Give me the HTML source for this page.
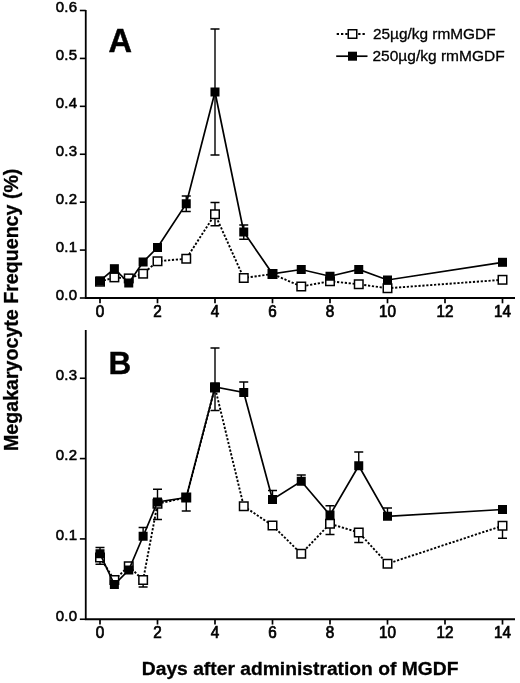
<!DOCTYPE html>
<html lang="en"><head><meta charset="utf-8"><title>Megakaryocyte Frequency after MGDF</title>
<style>html,body{margin:0;padding:0;background:#fff;}body{width:520px;height:683px;position:relative;overflow:hidden;}</style>
</head><body>
<svg width="520" height="683" viewBox="0 0 520 683" style="display:block;position:absolute;left:0;top:0;will-change:transform;opacity:0.999">
<rect width="520" height="683" fill="#fff"/>
<g font-family="'Liberation Sans', Arial, Helvetica, sans-serif" fill="#000">
<path d="M85.75 10.0V298.0H515" fill="none" stroke="#000" stroke-width="1.8"/>
<path d="M79.85 298.00H85.75" stroke="#000" stroke-width="1.6"/>
<text x="77.3" y="299.50" font-size="15" text-anchor="end" letter-spacing="0.25" stroke="#000" stroke-width="0.55">0.0</text>
<path d="M79.85 250.08H85.75" stroke="#000" stroke-width="1.6"/>
<text x="77.3" y="251.58" font-size="15" text-anchor="end" letter-spacing="0.25" stroke="#000" stroke-width="0.55">0.1</text>
<path d="M79.85 202.17H85.75" stroke="#000" stroke-width="1.6"/>
<text x="77.3" y="203.67" font-size="15" text-anchor="end" letter-spacing="0.25" stroke="#000" stroke-width="0.55">0.2</text>
<path d="M79.85 154.25H85.75" stroke="#000" stroke-width="1.6"/>
<text x="77.3" y="155.75" font-size="15" text-anchor="end" letter-spacing="0.25" stroke="#000" stroke-width="0.55">0.3</text>
<path d="M79.85 106.33H85.75" stroke="#000" stroke-width="1.6"/>
<text x="77.3" y="107.83" font-size="15" text-anchor="end" letter-spacing="0.25" stroke="#000" stroke-width="0.55">0.4</text>
<path d="M79.85 58.42H85.75" stroke="#000" stroke-width="1.6"/>
<text x="77.3" y="59.92" font-size="15" text-anchor="end" letter-spacing="0.25" stroke="#000" stroke-width="0.55">0.5</text>
<path d="M79.85 10.50H85.75" stroke="#000" stroke-width="1.6"/>
<text x="77.3" y="12.00" font-size="15" text-anchor="end" letter-spacing="0.25" stroke="#000" stroke-width="0.55">0.6</text>
<path d="M100.00 298.0V303.3" stroke="#000" stroke-width="1.7"/>
<text x="95.75" y="316.50" font-size="15.6" textLength="8.5" lengthAdjust="spacingAndGlyphs" stroke="#000" stroke-width="0.7">0</text>
<path d="M157.50 298.0V303.3" stroke="#000" stroke-width="1.7"/>
<text x="153.25" y="316.50" font-size="15.6" textLength="8.5" lengthAdjust="spacingAndGlyphs" stroke="#000" stroke-width="0.7">2</text>
<path d="M215.00 298.0V303.3" stroke="#000" stroke-width="1.7"/>
<text x="210.75" y="316.50" font-size="15.6" textLength="8.5" lengthAdjust="spacingAndGlyphs" stroke="#000" stroke-width="0.7">4</text>
<path d="M272.50 298.0V303.3" stroke="#000" stroke-width="1.7"/>
<text x="268.25" y="316.50" font-size="15.6" textLength="8.5" lengthAdjust="spacingAndGlyphs" stroke="#000" stroke-width="0.7">6</text>
<path d="M330.00 298.0V303.3" stroke="#000" stroke-width="1.7"/>
<text x="325.75" y="316.50" font-size="15.6" textLength="8.5" lengthAdjust="spacingAndGlyphs" stroke="#000" stroke-width="0.7">8</text>
<path d="M387.50 298.0V303.3" stroke="#000" stroke-width="1.7"/>
<text x="379.00" y="316.50" font-size="15.6" textLength="17.0" lengthAdjust="spacingAndGlyphs" stroke="#000" stroke-width="0.7">10</text>
<path d="M445.00 298.0V303.3" stroke="#000" stroke-width="1.7"/>
<text x="436.50" y="316.50" font-size="15.6" textLength="17.0" lengthAdjust="spacingAndGlyphs" stroke="#000" stroke-width="0.7">12</text>
<path d="M502.50 298.0V303.3" stroke="#000" stroke-width="1.7"/>
<text x="494.00" y="316.50" font-size="15.6" textLength="17.0" lengthAdjust="spacingAndGlyphs" stroke="#000" stroke-width="0.7">14</text>
<path d="M85.75 330.0V619.25H515" fill="none" stroke="#000" stroke-width="1.8"/>
<path d="M79.85 619.25H85.75" stroke="#000" stroke-width="1.6"/>
<text x="77.3" y="620.75" font-size="15" text-anchor="end" letter-spacing="0.25" stroke="#000" stroke-width="0.55">0.0</text>
<path d="M79.85 538.92H85.75" stroke="#000" stroke-width="1.6"/>
<text x="77.3" y="540.42" font-size="15" text-anchor="end" letter-spacing="0.25" stroke="#000" stroke-width="0.55">0.1</text>
<path d="M79.85 458.58H85.75" stroke="#000" stroke-width="1.6"/>
<text x="77.3" y="460.08" font-size="15" text-anchor="end" letter-spacing="0.25" stroke="#000" stroke-width="0.55">0.2</text>
<path d="M79.85 378.25H85.75" stroke="#000" stroke-width="1.6"/>
<text x="77.3" y="379.75" font-size="15" text-anchor="end" letter-spacing="0.25" stroke="#000" stroke-width="0.55">0.3</text>
<path d="M100.00 619.25V624.55" stroke="#000" stroke-width="1.7"/>
<text x="95.75" y="637.75" font-size="15.6" textLength="8.5" lengthAdjust="spacingAndGlyphs" stroke="#000" stroke-width="0.7">0</text>
<path d="M157.50 619.25V624.55" stroke="#000" stroke-width="1.7"/>
<text x="153.25" y="637.75" font-size="15.6" textLength="8.5" lengthAdjust="spacingAndGlyphs" stroke="#000" stroke-width="0.7">2</text>
<path d="M215.00 619.25V624.55" stroke="#000" stroke-width="1.7"/>
<text x="210.75" y="637.75" font-size="15.6" textLength="8.5" lengthAdjust="spacingAndGlyphs" stroke="#000" stroke-width="0.7">4</text>
<path d="M272.50 619.25V624.55" stroke="#000" stroke-width="1.7"/>
<text x="268.25" y="637.75" font-size="15.6" textLength="8.5" lengthAdjust="spacingAndGlyphs" stroke="#000" stroke-width="0.7">6</text>
<path d="M330.00 619.25V624.55" stroke="#000" stroke-width="1.7"/>
<text x="325.75" y="637.75" font-size="15.6" textLength="8.5" lengthAdjust="spacingAndGlyphs" stroke="#000" stroke-width="0.7">8</text>
<path d="M387.50 619.25V624.55" stroke="#000" stroke-width="1.7"/>
<text x="379.00" y="637.75" font-size="15.6" textLength="17.0" lengthAdjust="spacingAndGlyphs" stroke="#000" stroke-width="0.7">10</text>
<path d="M445.00 619.25V624.55" stroke="#000" stroke-width="1.7"/>
<text x="436.50" y="637.75" font-size="15.6" textLength="17.0" lengthAdjust="spacingAndGlyphs" stroke="#000" stroke-width="0.7">12</text>
<path d="M502.50 619.25V624.55" stroke="#000" stroke-width="1.7"/>
<text x="494.00" y="637.75" font-size="15.6" textLength="17.0" lengthAdjust="spacingAndGlyphs" stroke="#000" stroke-width="0.7">14</text>
<path d="M215.00 214.25V202.50M210.50 202.50H219.50" stroke="#000" stroke-width="1.4" fill="none"/>
<path d="M215.00 214.25V225.75M210.50 225.75H219.50" stroke="#000" stroke-width="1.4" fill="none"/>
<polyline points="100.00,281.70 114.38,277.40 128.75,278.40 143.12,273.70 157.50,261.25 186.25,258.75 215.00,214.25 243.75,278.00 272.50,274.00 301.25,286.50 330.00,281.25 358.75,284.25 387.50,288.25 502.50,279.80" fill="none" stroke="#000" stroke-width="1.9" stroke-dasharray="2.2 1.7"/>
<rect x="95.75" y="277.45" width="8.5" height="8.5" fill="#fff" stroke="#000" stroke-width="1.5"/>
<rect x="110.12" y="273.15" width="8.5" height="8.5" fill="#fff" stroke="#000" stroke-width="1.5"/>
<rect x="124.50" y="274.15" width="8.5" height="8.5" fill="#fff" stroke="#000" stroke-width="1.5"/>
<rect x="138.88" y="269.45" width="8.5" height="8.5" fill="#fff" stroke="#000" stroke-width="1.5"/>
<rect x="153.25" y="257.00" width="8.5" height="8.5" fill="#fff" stroke="#000" stroke-width="1.5"/>
<rect x="182.00" y="254.50" width="8.5" height="8.5" fill="#fff" stroke="#000" stroke-width="1.5"/>
<rect x="210.75" y="210.00" width="8.5" height="8.5" fill="#fff" stroke="#000" stroke-width="1.5"/>
<rect x="239.50" y="273.75" width="8.5" height="8.5" fill="#fff" stroke="#000" stroke-width="1.5"/>
<rect x="268.25" y="269.75" width="8.5" height="8.5" fill="#fff" stroke="#000" stroke-width="1.5"/>
<rect x="297.00" y="282.25" width="8.5" height="8.5" fill="#fff" stroke="#000" stroke-width="1.5"/>
<rect x="325.75" y="277.00" width="8.5" height="8.5" fill="#fff" stroke="#000" stroke-width="1.5"/>
<rect x="354.50" y="280.00" width="8.5" height="8.5" fill="#fff" stroke="#000" stroke-width="1.5"/>
<rect x="383.25" y="284.00" width="8.5" height="8.5" fill="#fff" stroke="#000" stroke-width="1.5"/>
<rect x="498.25" y="275.55" width="8.5" height="8.5" fill="#fff" stroke="#000" stroke-width="1.5"/>
<path d="M186.25 203.75V196.00M181.75 196.00H190.75" stroke="#000" stroke-width="1.4" fill="none"/>
<path d="M186.25 203.75V211.50M181.75 211.50H190.75" stroke="#000" stroke-width="1.4" fill="none"/>
<path d="M215.00 92.00V29.00M210.50 29.00H219.50" stroke="#000" stroke-width="1.4" fill="none"/>
<path d="M215.00 92.00V155.00M210.50 155.00H219.50" stroke="#000" stroke-width="1.4" fill="none"/>
<path d="M243.75 232.00V225.00M239.25 225.00H248.25" stroke="#000" stroke-width="1.4" fill="none"/>
<path d="M243.75 232.00V239.25M239.25 239.25H248.25" stroke="#000" stroke-width="1.4" fill="none"/>
<polyline points="100.00,280.90 114.38,268.70 128.75,283.00 143.12,262.00 157.50,247.50 186.25,203.75 215.00,92.00 243.75,232.00 272.50,273.75 301.25,269.50 330.00,276.25 358.75,269.50 387.50,280.00 502.50,262.30" fill="none" stroke="#000" stroke-width="1.7"/>
<rect x="95.50" y="276.40" width="9.0" height="9.0" fill="#000"/>
<rect x="109.88" y="264.20" width="9.0" height="9.0" fill="#000"/>
<rect x="124.25" y="278.50" width="9.0" height="9.0" fill="#000"/>
<rect x="138.62" y="257.50" width="9.0" height="9.0" fill="#000"/>
<rect x="153.00" y="243.00" width="9.0" height="9.0" fill="#000"/>
<rect x="181.75" y="199.25" width="9.0" height="9.0" fill="#000"/>
<rect x="210.50" y="87.50" width="9.0" height="9.0" fill="#000"/>
<rect x="239.25" y="227.50" width="9.0" height="9.0" fill="#000"/>
<rect x="268.00" y="269.25" width="9.0" height="9.0" fill="#000"/>
<rect x="296.75" y="265.00" width="9.0" height="9.0" fill="#000"/>
<rect x="325.50" y="271.75" width="9.0" height="9.0" fill="#000"/>
<rect x="354.25" y="265.00" width="9.0" height="9.0" fill="#000"/>
<rect x="383.00" y="275.50" width="9.0" height="9.0" fill="#000"/>
<rect x="498.00" y="257.80" width="9.0" height="9.0" fill="#000"/>
<path d="M100.00 557.50V564.25M95.50 564.25H104.50" stroke="#000" stroke-width="1.4" fill="none"/>
<path d="M143.12 580.00V587.00M138.62 587.00H147.62" stroke="#000" stroke-width="1.4" fill="none"/>
<path d="M157.50 503.75V519.50M153.00 519.50H162.00" stroke="#000" stroke-width="1.4" fill="none"/>
<path d="M215.00 387.50V410.50M210.50 410.50H219.50" stroke="#000" stroke-width="1.4" fill="none"/>
<path d="M330.00 523.75V534.50M325.50 534.50H334.50" stroke="#000" stroke-width="1.4" fill="none"/>
<path d="M358.75 532.50V542.50M354.25 542.50H363.25" stroke="#000" stroke-width="1.4" fill="none"/>
<path d="M502.50 525.75V538.25M498.00 538.25H507.00" stroke="#000" stroke-width="1.4" fill="none"/>
<polyline points="100.00,557.50 114.38,580.00 128.75,566.25 143.12,580.00 157.50,503.75 186.25,497.50 215.00,387.50 243.75,506.25 272.50,525.50 301.25,553.75 330.00,523.75 358.75,532.50 387.50,563.75 502.50,525.75" fill="none" stroke="#000" stroke-width="1.9" stroke-dasharray="2.2 1.7"/>
<rect x="95.75" y="553.25" width="8.5" height="8.5" fill="#fff" stroke="#000" stroke-width="1.5"/>
<rect x="110.12" y="575.75" width="8.5" height="8.5" fill="#fff" stroke="#000" stroke-width="1.5"/>
<rect x="124.50" y="562.00" width="8.5" height="8.5" fill="#fff" stroke="#000" stroke-width="1.5"/>
<rect x="138.88" y="575.75" width="8.5" height="8.5" fill="#fff" stroke="#000" stroke-width="1.5"/>
<rect x="153.25" y="499.50" width="8.5" height="8.5" fill="#fff" stroke="#000" stroke-width="1.5"/>
<rect x="182.00" y="493.25" width="8.5" height="8.5" fill="#fff" stroke="#000" stroke-width="1.5"/>
<rect x="210.75" y="383.25" width="8.5" height="8.5" fill="#fff" stroke="#000" stroke-width="1.5"/>
<rect x="239.50" y="502.00" width="8.5" height="8.5" fill="#fff" stroke="#000" stroke-width="1.5"/>
<rect x="268.25" y="521.25" width="8.5" height="8.5" fill="#fff" stroke="#000" stroke-width="1.5"/>
<rect x="297.00" y="549.50" width="8.5" height="8.5" fill="#fff" stroke="#000" stroke-width="1.5"/>
<rect x="325.75" y="519.50" width="8.5" height="8.5" fill="#fff" stroke="#000" stroke-width="1.5"/>
<rect x="354.50" y="528.25" width="8.5" height="8.5" fill="#fff" stroke="#000" stroke-width="1.5"/>
<rect x="383.25" y="559.50" width="8.5" height="8.5" fill="#fff" stroke="#000" stroke-width="1.5"/>
<rect x="498.25" y="521.50" width="8.5" height="8.5" fill="#fff" stroke="#000" stroke-width="1.5"/>
<path d="M100.00 553.75V547.50M95.50 547.50H104.50" stroke="#000" stroke-width="1.4" fill="none"/>
<path d="M143.12 536.25V527.50M138.62 527.50H147.62" stroke="#000" stroke-width="1.4" fill="none"/>
<path d="M157.50 502.00V489.25M153.00 489.25H162.00" stroke="#000" stroke-width="1.4" fill="none"/>
<path d="M186.25 497.50V511.00M181.75 511.00H190.75" stroke="#000" stroke-width="1.4" fill="none"/>
<path d="M215.00 387.00V348.00M210.50 348.00H219.50" stroke="#000" stroke-width="1.4" fill="none"/>
<path d="M243.75 392.50V382.00M239.25 382.00H248.25" stroke="#000" stroke-width="1.4" fill="none"/>
<path d="M272.50 499.50V490.50M268.00 490.50H277.00" stroke="#000" stroke-width="1.4" fill="none"/>
<path d="M301.25 481.25V475.00M296.75 475.00H305.75" stroke="#000" stroke-width="1.4" fill="none"/>
<path d="M330.00 515.00V505.75M325.50 505.75H334.50" stroke="#000" stroke-width="1.4" fill="none"/>
<path d="M358.75 465.75V452.00M354.25 452.00H363.25" stroke="#000" stroke-width="1.4" fill="none"/>
<path d="M387.50 516.25V508.00M383.00 508.00H392.00" stroke="#000" stroke-width="1.4" fill="none"/>
<polyline points="100.00,553.75 114.38,584.50 128.75,570.00 143.12,536.25 157.50,502.00 186.25,497.50 215.00,387.00 243.75,392.50 272.50,499.50 301.25,481.25 330.00,515.00 358.75,465.75 387.50,516.25 502.50,509.50" fill="none" stroke="#000" stroke-width="1.7"/>
<rect x="95.50" y="549.25" width="9.0" height="9.0" fill="#000"/>
<rect x="109.88" y="580.00" width="9.0" height="9.0" fill="#000"/>
<rect x="124.25" y="565.50" width="9.0" height="9.0" fill="#000"/>
<rect x="138.62" y="531.75" width="9.0" height="9.0" fill="#000"/>
<rect x="153.00" y="497.50" width="9.0" height="9.0" fill="#000"/>
<rect x="181.75" y="493.00" width="9.0" height="9.0" fill="#000"/>
<rect x="210.50" y="382.50" width="9.0" height="9.0" fill="#000"/>
<rect x="239.25" y="388.00" width="9.0" height="9.0" fill="#000"/>
<rect x="268.00" y="495.00" width="9.0" height="9.0" fill="#000"/>
<rect x="296.75" y="476.75" width="9.0" height="9.0" fill="#000"/>
<rect x="325.50" y="510.50" width="9.0" height="9.0" fill="#000"/>
<rect x="354.25" y="461.25" width="9.0" height="9.0" fill="#000"/>
<rect x="383.00" y="511.75" width="9.0" height="9.0" fill="#000"/>
<rect x="498.00" y="505.00" width="9.0" height="9.0" fill="#000"/>
<text x="108.6" y="51.9" font-size="32.5" font-weight="bold" stroke="#000" stroke-width="0.5">A</text>
<text x="108.6" y="373.9" font-size="31.5" font-weight="bold" stroke="#000" stroke-width="0.4">B</text>
<path d="M336.7 34H365.6" stroke="#000" stroke-width="1.9" stroke-dasharray="2.3 2" fill="none"/>
<rect x="348.25" y="29.75" width="8.5" height="8.5" fill="#fff" stroke="#000" stroke-width="1.5"/>
<text x="373" y="39.2" font-size="15.5" textLength="122.6" lengthAdjust="spacingAndGlyphs" stroke="#000" stroke-width="0.3">25µg/kg rmMGDF</text>
<path d="M336.2 56.2H367.5" stroke="#000" stroke-width="1.7" fill="none"/>
<rect x="348.0" y="51.7" width="9.0" height="9.0" fill="#000"/>
<text x="372.5" y="61.3" font-size="15.5" stroke="#000" stroke-width="0.3">250µg/kg rmMGDF</text>
<text x="141.8" y="675.2" font-size="19.25" font-weight="bold" stroke="#000" stroke-width="0.3">Days after administration of MGDF</text>
<text transform="translate(17.6 451) rotate(-90)" textLength="282.4" lengthAdjust="spacingAndGlyphs" font-size="19.5" font-weight="bold" stroke="#000" stroke-width="0.3">Megakaryocyte Frequency (%)</text>
</g></svg>
</body></html>
